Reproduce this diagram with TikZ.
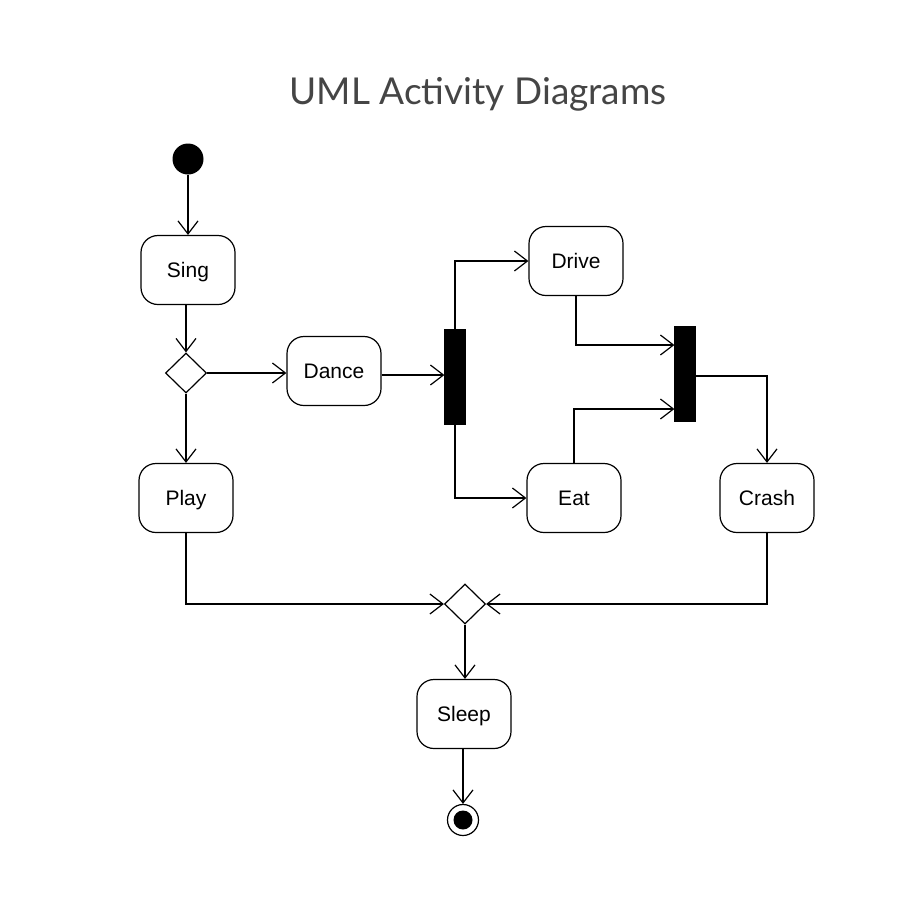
\documentclass[tikz,border=0pt]{standalone}
\usepackage{fontspec}
\setmainfont{Liberation Sans}
\newfontfamily\titlefont{Lato}
\usetikzlibrary{arrows.meta,shapes.geometric,calc}
\definecolor{titlegray}{HTML}{454545}
\begin{document}
\begin{tikzpicture}[x=1pt,y=-1pt,
  every node/.style={inner sep=0pt},
  act/.style={draw,line width=1.2pt,rounded corners=17pt,minimum width=94pt,minimum height=69pt,text height=15pt,text depth=0pt,font=\fontsize{21}{25}\selectfont},
  dec/.style={draw,line width=1.2pt,diamond,minimum width=41pt,minimum height=40pt,aspect=1},
  bar/.style={fill=black,draw=black,minimum width=20pt,minimum height=94pt},
  flow/.style={line width=1.2pt,-{Straight Barb[length=13pt,width=20pt,line width=1.2pt]}},
  line width=1.2pt]
\useasboundingbox (0,0) rectangle (900,900);
\node[font=\titlefont\fontsize{37}{44}\selectfont,text=titlegray] (title) at (478,94) {UML Activity Diagrams};
\node[circle,fill=black,minimum size=31pt] (start) at (188,159) {};
\node[act] (sing) at (188,270) {Sing};
\node[dec] (d1) at (186,373) {};
\node[act] (dance) at (334,371) {Dance};
\node[bar] (bar1) at (455,377) {};
\node[act] (drive) at (576,261) {Drive};
\node[act] (eat) at (574,498) {Eat};
\node[bar] (bar2) at (685,374) {};
\node[act] (crash) at (767,498) {Crash};
\node[act] (play) at (186,498) {Play};
\node[dec] (d2) at (465,604) {};
\node[act] (sleep) at (464,714) {Sleep};
\node[circle,draw,line width=1.2pt,minimum size=31pt] (end) at (463,820) {};
\node[circle,fill=black,minimum size=19pt] (endin) at (end.center) {};

\draw[flow] (start) -- (sing);
\draw[flow] (sing.south -| d1.north) -- (d1.north);
\draw[flow] (d1.east) -- (d1.east -| dance.west);
\draw[flow] (d1.south) -- (d1.south |- play.north);
\draw[flow] (dance.east |- 0,375) -- (bar1.west |- 0,375);
\draw[flow] (bar1.north) |- (drive.west);
\draw[flow] (bar1.south) |- (eat.west);
\draw[flow] (drive.south) |- ([yshift=29pt]bar2.west);
\draw[flow] (eat.north) |- ([yshift=-35pt]bar2.west);
\draw[flow] ([yshift=-2pt]bar2.east) -| (crash.north);
\draw[flow] (play.south) |- (d2.west);
\draw[flow] (crash.south) |- (d2.east);
\draw[flow] (d2.south) -- (d2.south |- sleep.north);
\draw[flow] (sleep.south -| end.north) -- (end.north);
\end{tikzpicture}
\end{document}
